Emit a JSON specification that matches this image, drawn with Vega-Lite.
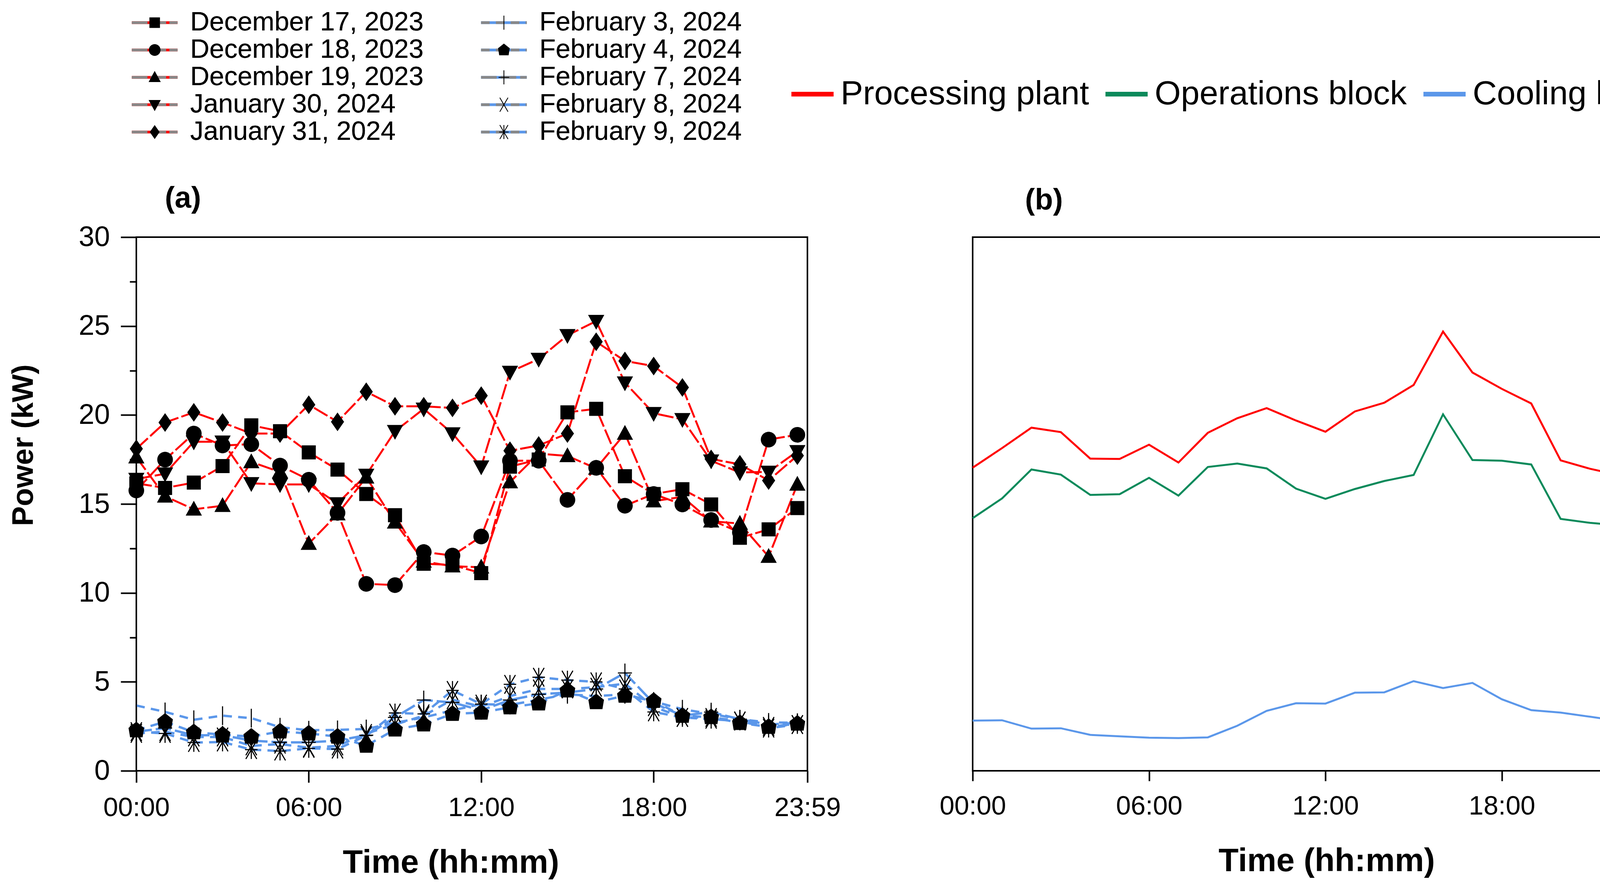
{
  "$schema": "https://vega.github.io/schema/vega-lite/v6.json",
  "background": "white",
  "padding": {"left": 20, "top": 22, "right": 10, "bottom": 10},
  "config": {
    "font": "Liberation Sans",
    "view": {"stroke": "black", "strokeWidth": 4},
    "axis": {
      "domain": false, "grid": false, "tickColor": "black", "tickWidth": 4,
      "labelColor": "black", "labelFont": "Liberation Sans",
      "titleFont": "Liberation Sans", "titleFontWeight": "bold", "titleColor": "black"
    },
    "legend": {"labelFont": "Liberation Sans", "labelColor": "black", "padding": 0},
    "title": {"font": "Liberation Sans", "color": "black", "fontWeight": "bold"}
  },
  "bounds": "flush",
  "spacing": 423,
  "datasets": {
    "a": [
      {"date":"December 17, 2023","h":0,"kW":16.16},{"date":"December 17, 2023","h":1,"kW":15.9},{"date":"December 17, 2023","h":2,"kW":16.2},{"date":"December 17, 2023","h":3,"kW":17.13},{"date":"December 17, 2023","h":4,"kW":19.42},{"date":"December 17, 2023","h":5,"kW":19.09},{"date":"December 17, 2023","h":6,"kW":17.9},{"date":"December 17, 2023","h":7,"kW":16.93},{"date":"December 17, 2023","h":8,"kW":15.56},{"date":"December 17, 2023","h":9,"kW":14.37},{"date":"December 17, 2023","h":10,"kW":11.64},{"date":"December 17, 2023","h":11,"kW":11.57},{"date":"December 17, 2023","h":12,"kW":11.11},{"date":"December 17, 2023","h":13,"kW":17.1},{"date":"December 17, 2023","h":14,"kW":17.5},{"date":"December 17, 2023","h":15,"kW":20.15},{"date":"December 17, 2023","h":16,"kW":20.35},{"date":"December 17, 2023","h":17,"kW":16.56},{"date":"December 17, 2023","h":18,"kW":15.56},{"date":"December 17, 2023","h":19,"kW":15.83},{"date":"December 17, 2023","h":20,"kW":14.97},{"date":"December 17, 2023","h":21,"kW":13.1},{"date":"December 17, 2023","h":22,"kW":13.57},{"date":"December 17, 2023","h":23,"kW":14.77},
      {"date":"December 18, 2023","h":0,"kW":15.76},{"date":"December 18, 2023","h":1,"kW":17.49},{"date":"December 18, 2023","h":2,"kW":18.96},{"date":"December 18, 2023","h":3,"kW":18.29},{"date":"December 18, 2023","h":4,"kW":18.36},{"date":"December 18, 2023","h":5,"kW":17.16},{"date":"December 18, 2023","h":6,"kW":16.36},{"date":"December 18, 2023","h":7,"kW":14.5},{"date":"December 18, 2023","h":8,"kW":10.51},{"date":"December 18, 2023","h":9,"kW":10.44},{"date":"December 18, 2023","h":10,"kW":12.3},{"date":"December 18, 2023","h":11,"kW":12.1},{"date":"December 18, 2023","h":12,"kW":13.17},{"date":"December 18, 2023","h":13,"kW":17.43},{"date":"December 18, 2023","h":14,"kW":17.43},{"date":"December 18, 2023","h":15,"kW":15.23},{"date":"December 18, 2023","h":16,"kW":17.03},{"date":"December 18, 2023","h":17,"kW":14.9},{"date":"December 18, 2023","h":18,"kW":15.56},{"date":"December 18, 2023","h":19,"kW":14.97},{"date":"December 18, 2023","h":20,"kW":14.1},{"date":"December 18, 2023","h":21,"kW":13.4},{"date":"December 18, 2023","h":22,"kW":18.62},{"date":"December 18, 2023","h":23,"kW":18.89},
      {"date":"December 19, 2023","h":0,"kW":17.63},{"date":"December 19, 2023","h":1,"kW":15.43},{"date":"December 19, 2023","h":2,"kW":14.7},{"date":"December 19, 2023","h":3,"kW":14.9},{"date":"December 19, 2023","h":4,"kW":17.36},{"date":"December 19, 2023","h":5,"kW":16.8},{"date":"December 19, 2023","h":6,"kW":12.77},{"date":"December 19, 2023","h":7,"kW":14.43},{"date":"December 19, 2023","h":8,"kW":16.5},{"date":"December 19, 2023","h":9,"kW":13.97},{"date":"December 19, 2023","h":10,"kW":11.77},{"date":"December 19, 2023","h":11,"kW":11.5},{"date":"December 19, 2023","h":12,"kW":11.44},{"date":"December 19, 2023","h":13,"kW":16.23},{"date":"December 19, 2023","h":14,"kW":17.83},{"date":"December 19, 2023","h":15,"kW":17.7},{"date":"December 19, 2023","h":16,"kW":17.0},{"date":"December 19, 2023","h":17,"kW":18.96},{"date":"December 19, 2023","h":18,"kW":15.16},{"date":"December 19, 2023","h":19,"kW":15.4},{"date":"December 19, 2023","h":20,"kW":14.03},{"date":"December 19, 2023","h":21,"kW":13.9},{"date":"December 19, 2023","h":22,"kW":12.04},{"date":"December 19, 2023","h":23,"kW":16.1},
      {"date":"January 30, 2024","h":0,"kW":16.4},{"date":"January 30, 2024","h":1,"kW":16.7},{"date":"January 30, 2024","h":2,"kW":18.5},{"date":"January 30, 2024","h":3,"kW":18.5},{"date":"January 30, 2024","h":4,"kW":16.16},{"date":"January 30, 2024","h":5,"kW":16.1},{"date":"January 30, 2024","h":6,"kW":16.1},{"date":"January 30, 2024","h":7,"kW":15.03},{"date":"January 30, 2024","h":8,"kW":16.63},{"date":"January 30, 2024","h":9,"kW":19.09},{"date":"January 30, 2024","h":10,"kW":20.35},{"date":"January 30, 2024","h":11,"kW":18.96},{"date":"January 30, 2024","h":12,"kW":17.1},{"date":"January 30, 2024","h":13,"kW":22.42},{"date":"January 30, 2024","h":14,"kW":23.15},{"date":"January 30, 2024","h":15,"kW":24.48},{"date":"January 30, 2024","h":16,"kW":25.28},{"date":"January 30, 2024","h":17,"kW":21.82},{"date":"January 30, 2024","h":18,"kW":20.1},{"date":"January 30, 2024","h":19,"kW":19.76},{"date":"January 30, 2024","h":20,"kW":17.43},{"date":"January 30, 2024","h":21,"kW":16.77},{"date":"January 30, 2024","h":22,"kW":16.8},{"date":"January 30, 2024","h":23,"kW":17.96},
      {"date":"January 31, 2024","h":0,"kW":18.1},{"date":"January 31, 2024","h":1,"kW":19.58},{"date":"January 31, 2024","h":2,"kW":20.15},{"date":"January 31, 2024","h":3,"kW":19.58},{"date":"January 31, 2024","h":4,"kW":18.96},{"date":"January 31, 2024","h":5,"kW":18.96},{"date":"January 31, 2024","h":6,"kW":20.58},{"date":"January 31, 2024","h":7,"kW":19.62},{"date":"January 31, 2024","h":8,"kW":21.31},{"date":"January 31, 2024","h":9,"kW":20.49},{"date":"January 31, 2024","h":10,"kW":20.49},{"date":"January 31, 2024","h":11,"kW":20.4},{"date":"January 31, 2024","h":12,"kW":21.09},{"date":"January 31, 2024","h":13,"kW":17.99},{"date":"January 31, 2024","h":14,"kW":18.29},{"date":"January 31, 2024","h":15,"kW":18.96},{"date":"January 31, 2024","h":16,"kW":24.12},{"date":"January 31, 2024","h":17,"kW":23.04},{"date":"January 31, 2024","h":18,"kW":22.75},{"date":"January 31, 2024","h":19,"kW":21.55},{"date":"January 31, 2024","h":20,"kW":17.53},{"date":"January 31, 2024","h":21,"kW":17.23},{"date":"January 31, 2024","h":22,"kW":16.32},{"date":"January 31, 2024","h":23,"kW":17.72},
      {"date":"February 3, 2024","h":0,"kW":3.67},{"date":"February 3, 2024","h":1,"kW":3.31},{"date":"February 3, 2024","h":2,"kW":2.87},{"date":"February 3, 2024","h":3,"kW":3.1},{"date":"February 3, 2024","h":4,"kW":2.96},{"date":"February 3, 2024","h":5,"kW":2.45},{"date":"February 3, 2024","h":6,"kW":2.28},{"date":"February 3, 2024","h":7,"kW":2.3},{"date":"February 3, 2024","h":8,"kW":2.35},{"date":"February 3, 2024","h":9,"kW":2.7},{"date":"February 3, 2024","h":10,"kW":3.0},{"date":"February 3, 2024","h":11,"kW":3.4},{"date":"February 3, 2024","h":12,"kW":3.75},{"date":"February 3, 2024","h":13,"kW":3.7},{"date":"February 3, 2024","h":14,"kW":4.0},{"date":"February 3, 2024","h":15,"kW":4.3},{"date":"February 3, 2024","h":16,"kW":4.2},{"date":"February 3, 2024","h":17,"kW":4.3},{"date":"February 3, 2024","h":18,"kW":3.9},{"date":"February 3, 2024","h":19,"kW":3.46},{"date":"February 3, 2024","h":20,"kW":3.2},{"date":"February 3, 2024","h":21,"kW":2.9},{"date":"February 3, 2024","h":22,"kW":2.72},{"date":"February 3, 2024","h":23,"kW":2.7},
      {"date":"February 4, 2024","h":0,"kW":2.28},{"date":"February 4, 2024","h":1,"kW":2.76},{"date":"February 4, 2024","h":2,"kW":2.17},{"date":"February 4, 2024","h":3,"kW":2.03},{"date":"February 4, 2024","h":4,"kW":1.92},{"date":"February 4, 2024","h":5,"kW":2.21},{"date":"February 4, 2024","h":6,"kW":2.1},{"date":"February 4, 2024","h":7,"kW":1.92},{"date":"February 4, 2024","h":8,"kW":1.41},{"date":"February 4, 2024","h":9,"kW":2.32},{"date":"February 4, 2024","h":10,"kW":2.61},{"date":"February 4, 2024","h":11,"kW":3.2},{"date":"February 4, 2024","h":12,"kW":3.27},{"date":"February 4, 2024","h":13,"kW":3.57},{"date":"February 4, 2024","h":14,"kW":3.79},{"date":"February 4, 2024","h":15,"kW":4.52},{"date":"February 4, 2024","h":16,"kW":3.86},{"date":"February 4, 2024","h":17,"kW":4.22},{"date":"February 4, 2024","h":18,"kW":3.93},{"date":"February 4, 2024","h":19,"kW":3.09},{"date":"February 4, 2024","h":20,"kW":3.02},{"date":"February 4, 2024","h":21,"kW":2.69},{"date":"February 4, 2024","h":22,"kW":2.47},{"date":"February 4, 2024","h":23,"kW":2.65},
      {"date":"February 7, 2024","h":0,"kW":2.2},{"date":"February 7, 2024","h":1,"kW":2.4},{"date":"February 7, 2024","h":2,"kW":2.0},{"date":"February 7, 2024","h":3,"kW":2.0},{"date":"February 7, 2024","h":4,"kW":1.7},{"date":"February 7, 2024","h":5,"kW":1.6},{"date":"February 7, 2024","h":6,"kW":1.6},{"date":"February 7, 2024","h":7,"kW":1.7},{"date":"February 7, 2024","h":8,"kW":2.0},{"date":"February 7, 2024","h":9,"kW":3.0},{"date":"February 7, 2024","h":10,"kW":3.98},{"date":"February 7, 2024","h":11,"kW":3.84},{"date":"February 7, 2024","h":12,"kW":3.4},{"date":"February 7, 2024","h":13,"kW":3.98},{"date":"February 7, 2024","h":14,"kW":4.3},{"date":"February 7, 2024","h":15,"kW":4.4},{"date":"February 7, 2024","h":16,"kW":4.6},{"date":"February 7, 2024","h":17,"kW":5.5},{"date":"February 7, 2024","h":18,"kW":3.8},{"date":"February 7, 2024","h":19,"kW":3.1},{"date":"February 7, 2024","h":20,"kW":3.3},{"date":"February 7, 2024","h":21,"kW":2.9},{"date":"February 7, 2024","h":22,"kW":2.6},{"date":"February 7, 2024","h":23,"kW":2.7},
      {"date":"February 8, 2024","h":0,"kW":2.1},{"date":"February 8, 2024","h":1,"kW":2.2},{"date":"February 8, 2024","h":2,"kW":1.9},{"date":"February 8, 2024","h":3,"kW":1.9},{"date":"February 8, 2024","h":4,"kW":1.4},{"date":"February 8, 2024","h":5,"kW":1.5},{"date":"February 8, 2024","h":6,"kW":1.3},{"date":"February 8, 2024","h":7,"kW":1.4},{"date":"February 8, 2024","h":8,"kW":2.1},{"date":"February 8, 2024","h":9,"kW":2.6},{"date":"February 8, 2024","h":10,"kW":3.1},{"date":"February 8, 2024","h":11,"kW":4.0},{"date":"February 8, 2024","h":12,"kW":3.6},{"date":"February 8, 2024","h":13,"kW":4.2},{"date":"February 8, 2024","h":14,"kW":4.6},{"date":"February 8, 2024","h":15,"kW":4.6},{"date":"February 8, 2024","h":16,"kW":4.7},{"date":"February 8, 2024","h":17,"kW":4.9},{"date":"February 8, 2024","h":18,"kW":3.6},{"date":"February 8, 2024","h":19,"kW":3.0},{"date":"February 8, 2024","h":20,"kW":3.0},{"date":"February 8, 2024","h":21,"kW":2.8},{"date":"February 8, 2024","h":22,"kW":2.5},{"date":"February 8, 2024","h":23,"kW":2.6},
      {"date":"February 9, 2024","h":0,"kW":2.2},{"date":"February 9, 2024","h":1,"kW":2.1},{"date":"February 9, 2024","h":2,"kW":1.59},{"date":"February 9, 2024","h":3,"kW":1.62},{"date":"February 9, 2024","h":4,"kW":1.19},{"date":"February 9, 2024","h":5,"kW":1.11},{"date":"February 9, 2024","h":6,"kW":1.26},{"date":"February 9, 2024","h":7,"kW":1.22},{"date":"February 9, 2024","h":8,"kW":1.98},{"date":"February 9, 2024","h":9,"kW":3.25},{"date":"February 9, 2024","h":10,"kW":3.2},{"date":"February 9, 2024","h":11,"kW":4.52},{"date":"February 9, 2024","h":12,"kW":3.75},{"date":"February 9, 2024","h":13,"kW":4.86},{"date":"February 9, 2024","h":14,"kW":5.26},{"date":"February 9, 2024","h":15,"kW":5.1},{"date":"February 9, 2024","h":16,"kW":5.0},{"date":"February 9, 2024","h":17,"kW":4.6},{"date":"February 9, 2024","h":18,"kW":3.31},{"date":"February 9, 2024","h":19,"kW":3.0},{"date":"February 9, 2024","h":20,"kW":2.9},{"date":"February 9, 2024","h":21,"kW":2.8},{"date":"February 9, 2024","h":22,"kW":2.4},{"date":"February 9, 2024","h":23,"kW":2.6}
    ],
    "b": [
      {"block":"Processing plant","h":0,"kW":17.04},{"block":"Processing plant","h":1,"kW":18.14},{"block":"Processing plant","h":2,"kW":19.29},{"block":"Processing plant","h":3,"kW":19.04},{"block":"Processing plant","h":4,"kW":17.55},{"block":"Processing plant","h":5,"kW":17.53},{"block":"Processing plant","h":6,"kW":18.33},{"block":"Processing plant","h":7,"kW":17.33},{"block":"Processing plant","h":8,"kW":19.0},{"block":"Processing plant","h":9,"kW":19.82},{"block":"Processing plant","h":10,"kW":20.39},{"block":"Processing plant","h":11,"kW":19.69},{"block":"Processing plant","h":12,"kW":19.06},{"block":"Processing plant","h":13,"kW":20.2},{"block":"Processing plant","h":14,"kW":20.69},{"block":"Processing plant","h":15,"kW":21.69},{"block":"Processing plant","h":16,"kW":24.69},{"block":"Processing plant","h":17,"kW":22.39},{"block":"Processing plant","h":18,"kW":21.47},{"block":"Processing plant","h":19,"kW":20.65},{"block":"Processing plant","h":20,"kW":17.45},{"block":"Processing plant","h":21,"kW":16.98},{"block":"Processing plant","h":22,"kW":16.61},{"block":"Processing plant","h":23,"kW":17.88},
      {"block":"Operations block","h":0,"kW":14.2},{"block":"Operations block","h":1,"kW":15.31},{"block":"Operations block","h":2,"kW":16.94},{"block":"Operations block","h":3,"kW":16.65},{"block":"Operations block","h":4,"kW":15.51},{"block":"Operations block","h":5,"kW":15.55},{"block":"Operations block","h":6,"kW":16.47},{"block":"Operations block","h":7,"kW":15.47},{"block":"Operations block","h":8,"kW":17.08},{"block":"Operations block","h":9,"kW":17.27},{"block":"Operations block","h":10,"kW":17.0},{"block":"Operations block","h":11,"kW":15.86},{"block":"Operations block","h":12,"kW":15.29},{"block":"Operations block","h":13,"kW":15.84},{"block":"Operations block","h":14,"kW":16.29},{"block":"Operations block","h":15,"kW":16.63},{"block":"Operations block","h":16,"kW":20.04},{"block":"Operations block","h":17,"kW":17.47},{"block":"Operations block","h":18,"kW":17.43},{"block":"Operations block","h":19,"kW":17.22},{"block":"Operations block","h":20,"kW":14.16},{"block":"Operations block","h":21,"kW":13.94},{"block":"Operations block","h":22,"kW":13.8},{"block":"Operations block","h":23,"kW":14.96},
      {"block":"Cooling block","h":0,"kW":2.82},{"block":"Cooling block","h":1,"kW":2.84},{"block":"Cooling block","h":2,"kW":2.37},{"block":"Cooling block","h":3,"kW":2.39},{"block":"Cooling block","h":4,"kW":2.02},{"block":"Cooling block","h":5,"kW":1.94},{"block":"Cooling block","h":6,"kW":1.86},{"block":"Cooling block","h":7,"kW":1.84},{"block":"Cooling block","h":8,"kW":1.88},{"block":"Cooling block","h":9,"kW":2.53},{"block":"Cooling block","h":10,"kW":3.37},{"block":"Cooling block","h":11,"kW":3.8},{"block":"Cooling block","h":12,"kW":3.78},{"block":"Cooling block","h":13,"kW":4.39},{"block":"Cooling block","h":14,"kW":4.41},{"block":"Cooling block","h":15,"kW":5.04},{"block":"Cooling block","h":16,"kW":4.65},{"block":"Cooling block","h":17,"kW":4.94},{"block":"Cooling block","h":18,"kW":4.02},{"block":"Cooling block","h":19,"kW":3.41},{"block":"Cooling block","h":20,"kW":3.27},{"block":"Cooling block","h":21,"kW":3.04},{"block":"Cooling block","h":22,"kW":2.8},{"block":"Cooling block","h":23,"kW":2.9}
    ]
  },
  "hconcat": [
    {
      "width": 1718,
      "height": 1366,
      "title": {"text": "(a)", "anchor": "start", "frame": "group", "dx": 73, "offset": -523, "fontSize": 76},
      "data": {"name": "a"},
      "layer": [
        {
          "transform": [{"filter": {"field": "date", "oneOf": ["December 17, 2023", "December 18, 2023", "December 19, 2023", "January 30, 2024", "January 31, 2024"]}}],
          "mark": {"type": "line", "strokeWidth": 5},
          "encoding": {
            "x": {
              "field": "h", "type": "quantitative",
              "scale": {"domain": [0, 23.35], "nice": false, "zero": false},
              "axis": {
                "values": [0, 6, 12, 18, 23.35],
                "labelExpr": "datum.value > 23 ? '23:59' : (datum.value < 10 ? '0' : '') + datum.value + ':00'",
                "labelFlush": false, "labelFontSize": 68, "labelPadding": 31,
                "tickSize": 30, "title": "Time (hh:mm)", "titleFontSize": 84, "titlePadding": 65, "titleX": 805
              }
            },
            "y": {
              "field": "kW", "type": "quantitative",
              "scale": {"domain": [0, 30], "nice": false},
              "axis": {
                "values": [0, 2.5, 5, 7.5, 10, 12.5, 15, 17.5, 20, 22.5, 25, 27.5, 30],
                "labelExpr": "datum.value % 5 === 0 ? datum.label : ''",
                "labelFontSize": 72, "labelPadding": 28,
                "tickSize": {"condition": {"test": "datum.value % 5 === 0", "value": 40}, "value": 17},
                "title": "Power (kW)", "titleFontSize": 76, "titlePadding": 101, "titleY": 532
              }
            },
            "color": {
              "field": "date", "type": "nominal",
              "sort": ["December 17, 2023", "December 18, 2023", "December 19, 2023", "January 30, 2024", "January 31, 2024"],
              "scale": {"range": ["#ff0000", "#ff0000", "#ff0000", "#ff0000", "#ff0000"]},
              "legend": {
                "orient": "none", "legendX": 13, "legendY": -583, "direction": "vertical", "title": null,
                "symbolType": "M-1.95,0H1.95", "symbolSize": 3600, "symbolStrokeWidth": 7,
                "labelFontSize": 68, "labelOffset": 57, "rowPadding": 2, "labelLimit": 0
              }
            },
            "strokeDash": {
              "field": "date", "type": "nominal",
              "sort": ["December 17, 2023", "December 18, 2023", "December 19, 2023", "January 30, 2024", "January 31, 2024"],
              "scale": {"range": [[40, 8], [40, 8], [40, 8], [40, 8], [40, 8]]},
              "legend": {
                "orient": "none", "legendX": 13, "legendY": -583, "direction": "vertical", "title": null,
                "symbolType": "M-1.95,0H1.95", "symbolSize": 3600, "symbolStrokeWidth": 7,
                "labelFontSize": 68, "labelOffset": 57, "rowPadding": 2, "labelLimit": 0
              }
            }
          }
        },
        {
          "transform": [{"filter": {"field": "date", "oneOf": ["February 3, 2024", "February 4, 2024", "February 7, 2024", "February 8, 2024", "February 9, 2024"]}}],
          "mark": {"type": "line", "strokeWidth": 6},
          "encoding": {
            "x": {"field": "h", "type": "quantitative"},
            "y": {"field": "kW", "type": "quantitative"},
            "color": {
              "field": "date", "type": "nominal",
              "sort": ["February 3, 2024", "February 4, 2024", "February 7, 2024", "February 8, 2024", "February 9, 2024"],
              "scale": {"range": ["#5b97ea", "#5b97ea", "#5b97ea", "#5b97ea", "#5b97ea"]},
              "legend": {
                "orient": "none", "legendX": 907, "legendY": -583, "direction": "vertical", "title": null,
                "symbolType": "M-1.95,0H1.95", "symbolSize": 3600, "symbolStrokeWidth": 7,
                "labelFontSize": 68, "labelOffset": 57, "rowPadding": 2, "labelLimit": 0
              }
            },
            "strokeDash": {
              "field": "date", "type": "nominal",
              "sort": ["February 3, 2024", "February 4, 2024", "February 7, 2024", "February 8, 2024", "February 9, 2024"],
              "scale": {"range": [[22, 16], [22, 16], [40, 10], [22, 16], [22, 16]]},
              "legend": {
                "orient": "none", "legendX": 907, "legendY": -583, "direction": "vertical", "title": null,
                "symbolType": "M-1.95,0H1.95", "symbolSize": 3600, "symbolStrokeWidth": 7,
                "labelFontSize": 68, "labelOffset": 57, "rowPadding": 2, "labelLimit": 0
              }
            }
          }
        },
        {
          "transform": [{"filter": {"field": "date", "oneOf": ["December 17, 2023", "December 18, 2023", "December 19, 2023", "January 30, 2024", "January 31, 2024"]}}],
          "mark": {"type": "point", "filled": true, "color": "black", "opacity": 1, "size": 6400, "strokeWidth": 0},
          "encoding": {
            "x": {"field": "h", "type": "quantitative"},
            "y": {"field": "kW", "type": "quantitative"},
            "shape": {
              "field": "date", "type": "nominal",
              "sort": ["December 17, 2023", "December 18, 2023", "December 19, 2023", "January 30, 2024", "January 31, 2024"],
              "scale": {"range": [
                "M-0.45,-0.45H0.45V0.45H-0.45Z",
                "M-0.5,0A0.5,0.5,0,1,1,0.5,0A0.5,0.5,0,1,1,-0.5,0Z",
                "M0,-0.55L0.52,0.4H-0.52Z",
                "M0,0.55L-0.52,-0.4H0.52Z",
                "M0,-0.6L0.42,0L0,0.6L-0.42,0Z"
              ]},
              "legend": {
                "orient": "none", "legendX": 13, "legendY": -583, "direction": "vertical", "title": null,
                "symbolSize": 3600, "symbolStrokeWidth": 7, "symbolFillColor": "black", "symbolStrokeColor": "transparent",
                "labelFontSize": 68, "labelOffset": 57, "rowPadding": 2, "labelLimit": 0, "labelExpr": "''"
              }
            }
          }
        },
        {
          "transform": [{"filter": {"field": "date", "oneOf": ["February 3, 2024", "February 4, 2024", "February 7, 2024", "February 8, 2024", "February 9, 2024"]}}],
          "mark": {"type": "point", "filled": true, "color": "black", "opacity": 1, "size": 6400, "strokeWidth": 0},
          "encoding": {
            "x": {"field": "h", "type": "quantitative"},
            "y": {"field": "kW", "type": "quantitative"},
            "shape": {
              "field": "date", "type": "nominal",
              "sort": ["February 3, 2024", "February 4, 2024", "February 7, 2024", "February 8, 2024", "February 9, 2024"],
              "scale": {"range": [
                "M-0.035,-0.6H0.035V0.6H-0.035Z",
                "M0,-0.55L0.5,-0.15L0.4,0.45H-0.4L-0.5,-0.15Z",
                "M-0.035,-0.6H0.035V0.6H-0.035ZM-0.45,-0.035H0.45V0.035H-0.45Z",
                "M-0.32,-0.618L0.38,0.582L0.32,0.618L-0.38,-0.582ZM0.32,-0.618L0.38,-0.582L-0.32,0.618L-0.38,0.582Z",
                "M-0.32,-0.618L0.38,0.582L0.32,0.618L-0.38,-0.582ZM0.32,-0.618L0.38,-0.582L-0.32,0.618L-0.38,0.582ZM-0.035,-0.6H0.035V0.6H-0.035ZM-0.4,-0.035H0.4V0.035H-0.4Z"
              ]},
              "legend": {
                "orient": "none", "legendX": 907, "legendY": -583, "direction": "vertical", "title": null,
                "symbolSize": 3600, "symbolStrokeWidth": 7, "symbolFillColor": "black", "symbolStrokeColor": "transparent",
                "labelFontSize": 68, "labelOffset": 57, "rowPadding": 2, "labelLimit": 0, "labelExpr": "''"
              }
            }
          }
        }
      ],
      "resolve": {"scale": {"color": "independent", "strokeDash": "independent", "shape": "independent"}}
    },
    {
      "width": 1731,
      "height": 1366,
      "title": {"text": "(b)", "anchor": "start", "frame": "group", "dx": 134, "offset": -371, "fontSize": 76},
      "data": {"name": "b"},
      "mark": {"type": "line", "strokeWidth": 5},
      "encoding": {
        "x": {
          "field": "h", "type": "quantitative",
          "scale": {"domain": [0, 23], "nice": false, "zero": false},
          "axis": {
            "values": [0, 6, 12, 18, 23],
            "labelExpr": "datum.value == 23 ? '23:59' : (datum.value < 10 ? '0' : '') + datum.value + ':00'",
            "labelFlush": false, "labelFontSize": 68, "labelPadding": 31,
            "tickSize": 26, "title": "Time (hh:mm)", "titleFontSize": 84, "titlePadding": 65, "titleX": 906
          }
        },
        "y": {"field": "kW", "type": "quantitative", "scale": {"domain": [0, 30], "nice": false}, "axis": null},
        "color": {
          "field": "block", "type": "nominal",
          "sort": ["Processing plant", "Operations block", "Cooling block"],
          "scale": {"range": ["#ff0000", "#0b8a5b", "#5b97ea"]},
          "legend": {
            "orient": "none", "direction": "horizontal", "legendX": -470, "legendY": -426, "title": null,
            "symbolType": "stroke", "symbolSize": 11664, "symbolStrokeWidth": 12,
            "labelFontSize": 86, "labelOffset": 12, "columnPadding": 18, "labelLimit": 0
          }
        }
      }
    }
  ],
  "resolve": {
    "scale": {"x": "independent", "y": "independent", "color": "independent", "strokeDash": "independent", "shape": "independent"},
    "legend": {"color": "independent", "strokeDash": "independent", "shape": "independent"}
  }
}
